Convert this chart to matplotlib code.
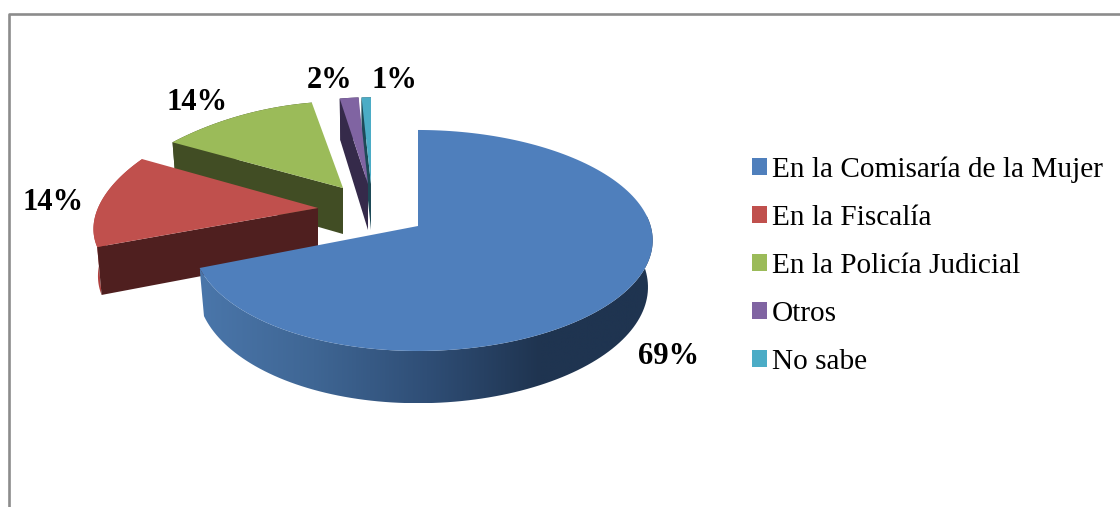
import numpy as np
import matplotlib
matplotlib.use("Agg")
import matplotlib.pyplot as plt
from matplotlib.colors import LinearSegmentedColormap
from matplotlib.patches import Patch, Polygon

# Data
categories = ["En la Comisaría de la Mujer", "En la Fiscalía", "En la Policía Judicial", "Otros", "No sabe"]
values = [69, 14, 14, 2, 1]
labels = ["69%", "14%", "14%", "2%", "1%"]

top_colors = ["#4f7fbc", "#c0504d", "#9bbb59", "#8064a2", "#4bacc6"]
side_colors = ["#1f3450", "#4f1f1f", "#414d24", "#352a4a", "#1d4a57"]
rim_colors = ["#1f3450", "#b0413f", "#414d24", "#352a4a", "#1d4a57"]

# how each exploded slice is seen: tip x, tip y, x radius, y radius, x and y perspective, x tilt
views = [
    (418, 226, 228, 108.6, 0.13, 0.131, -0.02),
    (318, 208, 220, 104, 0.20, 0.05, 0),
    (343, 188, 232, 104, 0.40, 0.20, 0),
    (368, 184, 210, 104, 0.40, 0.20, 0),
    (371, 184, 210, 104, 0.40, 0.20, 0),
]
label_pos = [(669, 356), (53, 202), (197, 102), (330, 80), (394, 80)]
depth = 46


def project(theta, view, bottom=False):
    x0, y0, rx, ry, kx, ky, tilt = view
    u, v = np.sin(theta), np.cos(theta)
    if bottom:
        rx, ry, y0 = rx * 0.98, ry * 1.05, y0 + depth
    return x0 + rx * u / (1 + kx * v + tilt * u), y0 - ry * v / (1 + ky * v)


fig = plt.figure(figsize=(11.2, 5.07), dpi=100)
ax = fig.add_axes([0, 0, 1, 1])

# chart frame
ax.plot([9, 9, 1125], [515, 14, 14], color="#8c8c8c", lw=1.9)

edges = np.radians(np.cumsum([0] + values) * 3.6)
rim_cmap = LinearSegmentedColormap.from_list(
    "rim", ["#4a76aa", "#3f6694", "#2f4e76", "#1f3450", "#1f3450"])

# back slices first, the big one last
for i in [4, 3, 2, 1, 0]:
    view = views[i]
    th = np.linspace(edges[i], edges[i + 1], 160)
    xt, yt = project(th, view)
    xb, yb = project(th, view, bottom=True)

    # outer rim, the big slice gets a left to right gradient
    if i == 0:
        front = np.cos(th) < 0.1  # the back of the arc is hidden anyway
        rim_xy = np.c_[np.r_[xt[front], xb[front][::-1]], np.r_[yt[front], yb[front][::-1]]]
        im = ax.imshow(np.linspace(0, 1, 256)[None, :], cmap=rim_cmap, aspect="auto",
                       extent=(xt.min(), xt.max(), yb.max(), yt.min()), zorder=1)
        im.set_clip_path(Polygon(rim_xy, transform=ax.transData))
    else:
        ax.fill(np.r_[xt, xb[::-1]], np.r_[yt, yb[::-1]], color=rim_colors[i], lw=0)

    # cut face
    ax.fill([xt[0], view[0], view[0], xb[0]],
            [yt[0], view[1], view[1] + depth, yb[0]], color=side_colors[i], lw=0)

    # top face
    ax.fill(np.r_[view[0], xt], np.r_[view[1], yt], color=top_colors[i], lw=0)

for (x, y), lab in zip(label_pos, labels):
    ax.text(x, y, lab, ha="center", va="center", fontsize=22, fontweight="bold",
            family="Liberation Serif", color="black")

handles = [Patch(facecolor=c, edgecolor="none") for c in top_colors]
ax.legend(handles, categories, loc="center left", bbox_to_anchor=(752 / 1120, 1 - 266 / 507),
          frameon=False, prop={"family": "Liberation Serif", "size": 21.1},
          handlelength=0.51, handleheight=0.51, handletextpad=0.17, labelspacing=0.75,
          borderpad=0, borderaxespad=0)

ax.set_xlim(0, 1120)
ax.set_ylim(507, 0)
ax.axis("off")

fig.savefig("out.png", dpi=100)
